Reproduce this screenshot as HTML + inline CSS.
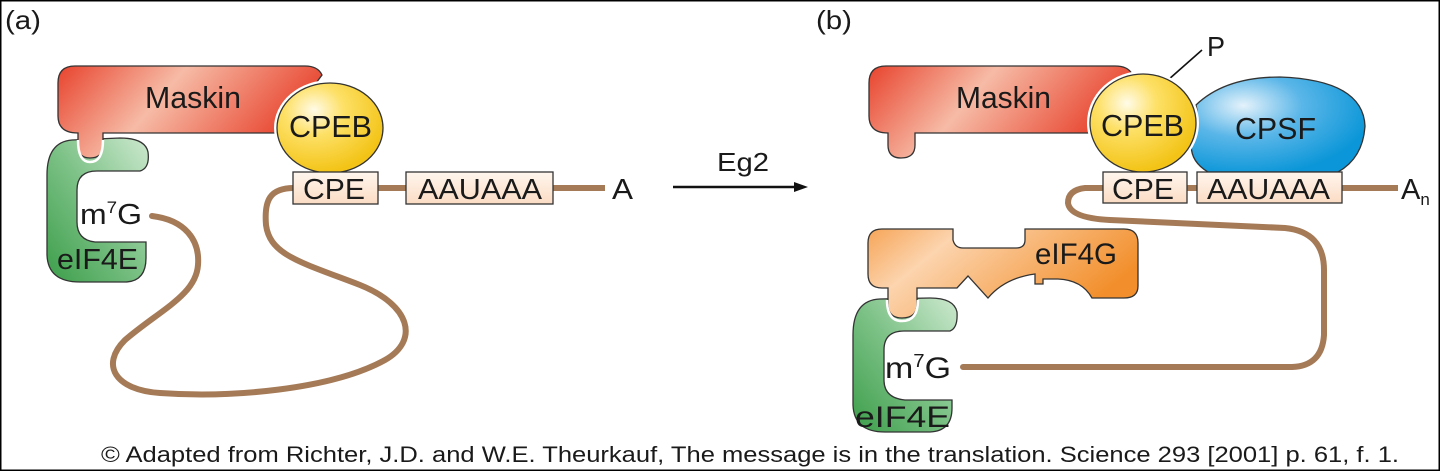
<!DOCTYPE html>
<html><head><meta charset="utf-8"><style>
html,body{margin:0;padding:0;background:#fff;}
svg{display:block;}
text{font-family:"Liberation Sans",sans-serif;fill:#1a1a1a;}
</style></head><body>
<svg width="1440" height="471" viewBox="0 0 1440 471" xmlns="http://www.w3.org/2000/svg">
<defs>
<linearGradient id="red" x1="0" y1="0" x2="1" y2="0.3">
<stop offset="0" stop-color="#e8432d"/><stop offset="0.45" stop-color="#f6bba6"/><stop offset="1" stop-color="#e8432d"/></linearGradient>
<linearGradient id="green" x1="1" y1="0" x2="0" y2="1">
<stop offset="0" stop-color="#cde9cf"/><stop offset="0.5" stop-color="#7cc186"/><stop offset="1" stop-color="#3c9e4a"/></linearGradient>
<radialGradient id="yel" cx="0.35" cy="0.3" r="0.7">
<stop offset="0" stop-color="#fffbe8"/><stop offset="0.4" stop-color="#fde066"/><stop offset="1" stop-color="#f3c417"/></radialGradient>
<radialGradient id="blue" cx="0.3" cy="0.3" r="0.75">
<stop offset="0" stop-color="#e4f2fb"/><stop offset="0.45" stop-color="#5ab6e8"/><stop offset="1" stop-color="#0a96d8"/></radialGradient>
<linearGradient id="org" x1="0" y1="0" x2="1" y2="0.4">
<stop offset="0" stop-color="#f6a558"/><stop offset="0.3" stop-color="#fcd4ae"/><stop offset="1" stop-color="#f28f2c"/></linearGradient>
<linearGradient id="box" x1="0" y1="0" x2="0" y2="1">
<stop offset="0" stop-color="#fff6ee"/><stop offset="1" stop-color="#fbdcc4"/></linearGradient>
</defs>
<rect x="0.75" y="0.75" width="1438.5" height="469.5" fill="#fff" stroke="#000" stroke-width="1.5"/>

<text x="5" y="29" font-size="26" textLength="36" lengthAdjust="spacingAndGlyphs">(a)</text>
<text x="816" y="29" font-size="26" textLength="36" lengthAdjust="spacingAndGlyphs">(b)</text>

<!-- ===== Panel A ===== -->
<path d="M152,216 C185,220 200,240 198,265 C196,295 160,310 125,340 C100,365 115,390 160,393 C230,398 330,390 385,360 C420,340 410,305 360,285 C300,262 270,255 266,225 C264,200 270,188 294,188" fill="none" stroke="#a57a57" stroke-width="6" stroke-linecap="round"/>
<line x1="378" y1="188" x2="406" y2="188" stroke="#a57a57" stroke-width="6"/>
<line x1="553" y1="188" x2="605" y2="188" stroke="#a57a57" stroke-width="6"/>
<path d="M72,140 Q47,142 47,175 L47,255 Q48,282 80,282 L126,282 Q146,281 146,258 L146,242 L95,242 Q77,240 77,222 L77,190 Q77,171 97,171 L140,171 Q150,168 148,152 Q145,138 120,138 Z" fill="url(#green)" stroke="#333" stroke-width="1.3"/>
<path d="M75,66 L305,66 Q318,66 322,75 L290,118 L285,133 L103,133 L103,145 Q103,158 90,158 Q78,158 78,145 L78,133 Q58,133 58,116 L58,83 Q58,66 75,66 Z" fill="url(#red)" stroke="#333" stroke-width="1.3"/>
<path d="M78,140 Q78,162 90,162 Q103,162 103,140" fill="none" stroke="#fff" stroke-width="2.5"/>
<ellipse cx="330" cy="128" rx="53" ry="45" fill="url(#yel)" stroke="#fff" stroke-width="6"/>
<ellipse cx="330" cy="128" rx="53" ry="45" fill="url(#yel)" stroke="#333" stroke-width="1.3"/>
<text x="145" y="108" font-size="31" textLength="96" lengthAdjust="spacingAndGlyphs">Maskin</text>
<text x="289" y="137" font-size="31" textLength="83" lengthAdjust="spacingAndGlyphs">CPEB</text>
<rect x="293" y="172" width="85" height="32" fill="url(#box)" stroke="#333" stroke-width="1.3"/>
<rect x="406" y="172" width="147" height="32" fill="url(#box)" stroke="#333" stroke-width="1.3"/>
<text x="303" y="199" font-size="29" textLength="62" lengthAdjust="spacingAndGlyphs">CPE</text>
<text x="418" y="199" font-size="29" textLength="124" lengthAdjust="spacingAndGlyphs">AAUAAA</text>
<text x="612" y="199" font-size="29" textLength="21" lengthAdjust="spacingAndGlyphs">A</text>
<text x="80" y="224" font-size="29" textLength="62" lengthAdjust="spacingAndGlyphs">m<tspan font-size="17" dy="-11">7</tspan><tspan dy="11">G</tspan></text>
<text x="57" y="269" font-size="29" textLength="81" lengthAdjust="spacingAndGlyphs">eIF4E</text>

<line x1="673" y1="187" x2="798" y2="187" stroke="#111" stroke-width="2.5"/>
<polygon points="808,187 794,182 794,192" fill="#111"/>
<text x="717" y="171" font-size="26" textLength="52" lengthAdjust="spacingAndGlyphs">Eg2</text>

<!-- ===== Panel B ===== -->
<path d="M1103,188 L1085,188 Q1068,190 1068,203 Q1070,218 1110,220 L1285,228 Q1324,232 1324,270 L1324,335 Q1322,366 1292,367 L963,367" fill="none" stroke="#a57a57" stroke-width="6" stroke-linecap="round"/>
<line x1="1187" y1="188" x2="1197" y2="188" stroke="#a57a57" stroke-width="6"/>
<line x1="1342" y1="188" x2="1398" y2="188" stroke="#a57a57" stroke-width="6"/>
<path d="M886,66 L1115,66 Q1128,66 1132,74 L1098,115 L1094,133 L915,133 L915,145 Q915,158 901,158 Q888,158 888,145 L888,133 Q869,133 869,116 L869,83 Q869,66 886,66 Z" fill="url(#red)" stroke="#333" stroke-width="1.3"/>
<path d="M1196,105 Q1225,77 1280,77 Q1363,80 1365,126 Q1363,158 1338,172 L1208,172 Q1188,160 1192,140 Q1200,120 1196,105 Z" fill="url(#blue)" stroke="#333" stroke-width="1.3"/>
<line x1="1168" y1="80" x2="1202" y2="50" stroke="#111" stroke-width="1.6"/>
<ellipse cx="1143" cy="123" rx="53" ry="49" fill="url(#yel)" stroke="#fff" stroke-width="6"/>
<ellipse cx="1143" cy="123" rx="53" ry="49" fill="url(#yel)" stroke="#333" stroke-width="1.3"/>
<text x="956" y="108" font-size="31" textLength="95" lengthAdjust="spacingAndGlyphs">Maskin</text>
<text x="1101" y="136" font-size="31" textLength="83" lengthAdjust="spacingAndGlyphs">CPEB</text>
<text x="1235" y="139" font-size="31" textLength="81" lengthAdjust="spacingAndGlyphs">CPSF</text>
<text x="1207" y="56" font-size="28" textLength="18" lengthAdjust="spacingAndGlyphs">P</text>
<rect x="1103" y="172" width="84" height="31" fill="url(#box)" stroke="#333" stroke-width="1.3"/>
<rect x="1197" y="172" width="145" height="31" fill="url(#box)" stroke="#333" stroke-width="1.3"/>
<text x="1112" y="199" font-size="29" textLength="62" lengthAdjust="spacingAndGlyphs">CPE</text>
<text x="1207" y="199" font-size="29" textLength="123" lengthAdjust="spacingAndGlyphs">AAUAAA</text>
<text x="1401" y="199" font-size="29">A<tspan font-size="17" dy="6">n</tspan></text>
<path d="M880,299 Q853,300 853,335 L853,405 Q854,432 885,432 L930,432 Q952,431 952,408 L952,400 L905,400 Q884,398 884,380 L884,350 Q884,331 904,331 L950,331 Q958,328 957,312 Q954,298 930,298 Z" fill="url(#green)" stroke="#333" stroke-width="1.3"/>
<path d="M882,229 L953,229 L953,240 Q955,248 963,248 L1016,248 Q1025,248 1025,240 L1025,229 L1124,229 Q1138,229 1138,243 L1138,286 Q1138,298 1124,298 L1092,298 Q1082,280 1058,279 L1043,279 L1043,284 L1035,284 L1035,274 Q1005,278 988,298 L968,276 L957,288 L917,288 L917,304 Q917,318 902,318 Q888,318 888,304 L888,288 L882,288 Q868,288 868,274 L868,243 Q868,229 882,229 Z" fill="url(#org)" stroke="#333" stroke-width="1.3"/>
<path d="M887,300 Q887,321 902,321 Q918,321 918,300" fill="none" stroke="#fff" stroke-width="2.5"/>
<text x="1035" y="264" font-size="30" textLength="82" lengthAdjust="spacingAndGlyphs">eIF4G</text>
<text x="885" y="378" font-size="30" textLength="66" lengthAdjust="spacingAndGlyphs">m<tspan font-size="18" dy="-11">7</tspan><tspan dy="11">G</tspan></text>
<text x="855" y="427" font-size="30" textLength="95" lengthAdjust="spacingAndGlyphs">eIF4E</text>

<text x="101" y="462" font-size="22" textLength="1298" lengthAdjust="spacingAndGlyphs">© Adapted from Richter, J.D. and W.E. Theurkauf, The message is in the translation. Science 293 [2001] p. 61, f. 1.</text>
</svg>
</body></html>
